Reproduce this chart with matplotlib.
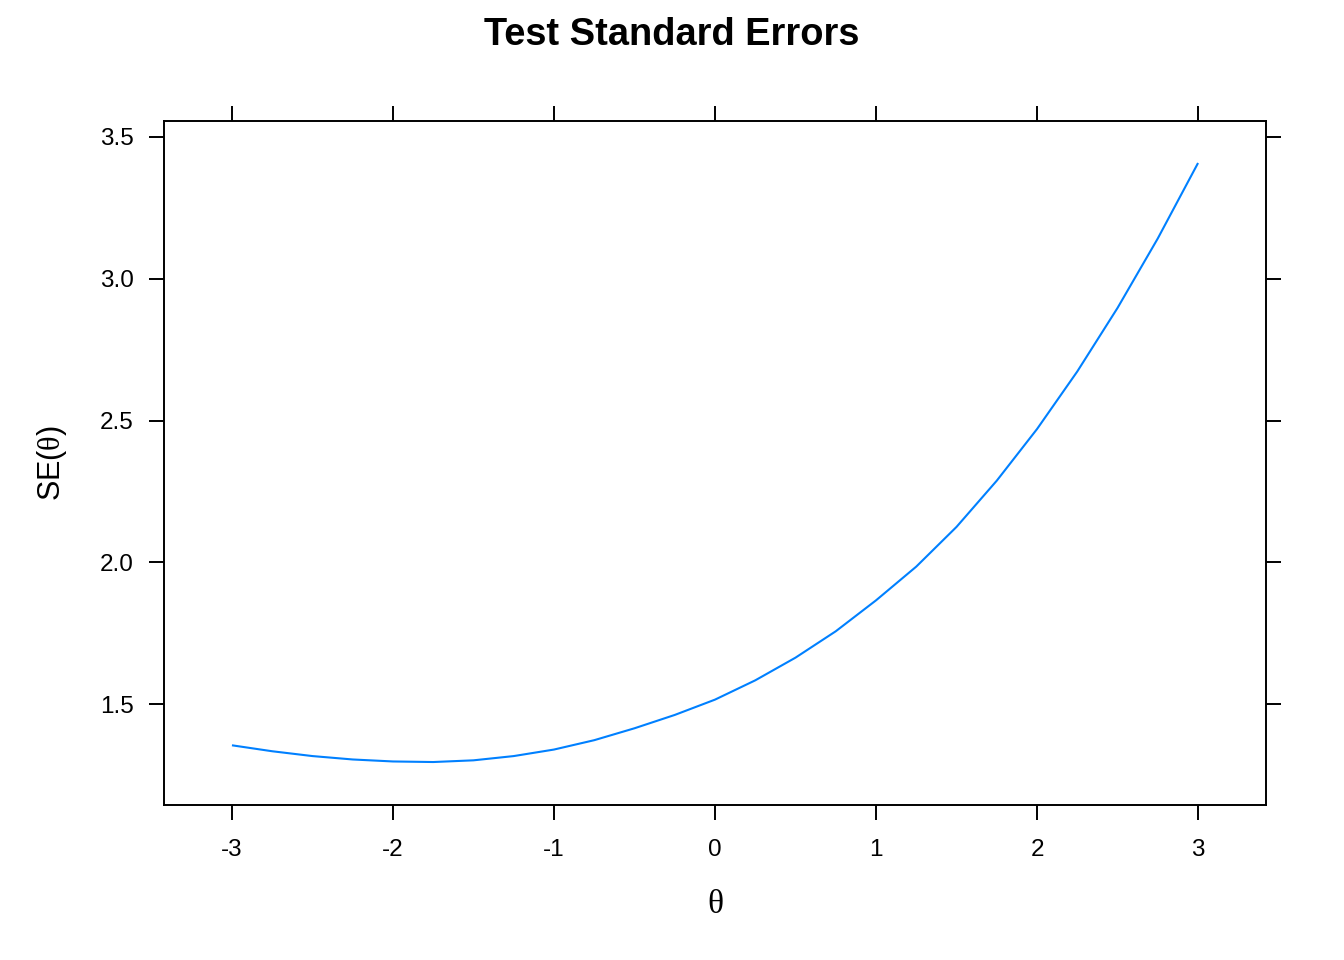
import matplotlib
matplotlib.use('Agg')
import matplotlib.pyplot as plt
import numpy as np

# values
theta = [-3.0, -2.75, -2.5, -2.25, -2.0, -1.75, -1.5, -1.25, -1.0, -0.75, -0.5, -0.25,
         0.0, 0.25, 0.5, 0.75, 1.0, 1.25, 1.5, 1.75, 2.0, 2.25, 2.5, 2.75, 3.0]
se = [1.355, 1.334, 1.317, 1.305, 1.298, 1.296, 1.302, 1.317, 1.340, 1.373, 1.415, 1.462,
      1.516, 1.584, 1.664, 1.757, 1.866, 1.985, 2.125, 2.288, 2.470, 2.673, 2.897, 3.142, 3.408]
x_ticks = [-3, -2, -1, 0, 1, 2, 3]
y_ticks = [1.5, 2.0, 2.5, 3.0, 3.5]
y_tick_labels = ['1.5', '2.0', '2.5', '3.0', '3.5']

plt.rcParams['font.family'] = ['Liberation Sans', 'DejaVu Sans']
plt.rcParams['mathtext.fontset'] = 'custom'
plt.rcParams['mathtext.rm'] = 'Liberation Serif'
plt.rcParams['mathtext.it'] = 'Liberation Serif:italic'

W, H = 1344, 960
fig = plt.figure(figsize=(W / 100, H / 100), dpi=100)
ax = fig.add_axes([164 / W, 1 - 805 / H, (1266 - 164) / W, (805 - 121) / H])

ax.plot(theta, se, color='#0080ff', lw=1.5, solid_capstyle='butt', solid_joinstyle='round')

ax.set_xlim(-3.422, 3.422)
ax.set_ylim(1.1445, 3.556)
ax.set_xticks(x_ticks)
ax.set_xticklabels([str(t) for t in x_ticks])
ax.set_yticks(y_ticks)
ax.set_yticklabels(y_tick_labels)

ax.tick_params(direction='out', length=11, width=1.4, labelsize=17.5, colors='black',
               top=True, right=True, labeltop=False, labelright=False)
ax.tick_params(axis='x', pad=13.5)
ax.tick_params(axis='y', pad=11)
for s in ax.spines.values():
    s.set_linewidth(1.4)

ax.set_xlabel(r'$\mathrm{\theta}$', fontsize=24, labelpad=20)
ax.set_ylabel(r'SE($\mathrm{\theta}$)', fontsize=22, labelpad=22)

fig.text(0.5, 1 - 35 / H, 'Test Standard Errors', ha='center', va='center',
         fontsize=27.4, fontweight='bold')

fig.savefig('out.png', dpi=100)
